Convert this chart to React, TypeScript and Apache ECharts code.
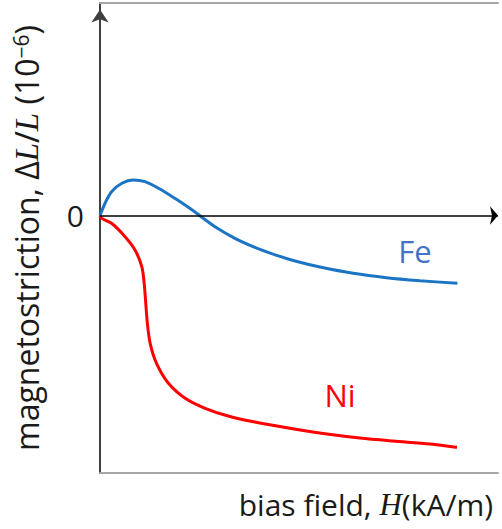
import { useEffect, useRef } from "react";
import * as echarts from "echarts";

// Fe curve: bias field H (arbitrary units) vs magnetostriction (arbitrary units)
const feH = [0, 0.13, 0.29, 0.55, 0.84, 1.13, 1.47, 1.88, 2.22, 2.51, 2.89, 3.39, 3.89, 4.4, 4.9, 5.53, 6.36, 7.2, 8.04, 8.98];
const feStrain = [0, 1.25, 2.38, 3.22, 3.55, 3.38, 2.72, 1.72, 0.82, -0.02, -1.12, -2.28, -3.18, -3.93, -4.55, -5.15, -5.78, -6.22, -6.52, -6.78];
// Ni curve
const niH = [0, 0.04, 0.29, 0.63, 0.88, 1.05, 1.11, 1.15, 1.19, 1.26, 1.42, 1.72, 2.14, 2.64, 3.22, 3.89, 5.03, 5.7, 6.53, 7.36, 8.29, 8.97];
const niStrain = [0, -0.28, -0.78, -2.12, -3.45, -5.12, -6.78, -8.78, -10.78, -12.78, -14.78, -16.78, -18.28, -19.28, -20.05, -20.65, -21.45, -21.85, -22.25, -22.55, -22.85, -23.18];

const xRange = [0, 10];
const yRange = [-25.75, 21.25];
const seriesNames = ["Fe", "Ni"];
const yTitle = "magnetostriction, Δ{i|L}/{i|L} (10{sup|−6})";
const xTitle = "bias field, {i|H}(kA/m)";

const zip = (a: number[], b: number[]) => a.map((v, i) => [v, b[i]]);

export default function App() {
  const ref = useRef<HTMLDivElement>(null);
  useEffect(() => {
    if (!ref.current) return;
    const chart = echarts.init(ref.current, null, { renderer: "svg" });
    const font = "Open Sans";
    const textColor = "#1a1a1a";
    const hiddenAxisBits = {
      axisTick: { show: false },
      axisLabel: { show: false },
      splitLine: { show: false },
    };
    chart.setOption({
      animation: false,
      backgroundColor: "#ffffff",
      textStyle: { fontFamily: font },
      grid: { left: 100, right: 4, top: 3, bottom: 56 },
      xAxis: [
        {
          type: "value",
          min: xRange[0],
          max: xRange[1],
          position: "bottom",
          axisLine: { onZero: false, lineStyle: { color: "#a6a6a6", width: 2 } },
          ...hiddenAxisBits,
          name: xTitle,
          nameLocation: "end",
          nameGap: -5,
          nameTextStyle: {
            fontFamily: font,
            fontSize: 30,
            color: textColor,
            align: "right",
            verticalAlign: "top",
            padding: [16, 0, 0, 0],
            rich: {
              i: { fontFamily: "Liberation Serif", fontStyle: "italic", fontSize: 31, color: textColor },
            },
          },
        },
        {
          type: "value",
          min: xRange[0],
          max: xRange[1],
          position: "top",
          axisLine: { onZero: false, lineStyle: { color: "#a6a6a6", width: 2 } },
          ...hiddenAxisBits,
        },
      ],
      yAxis: {
        type: "value",
        min: yRange[0],
        max: yRange[1],
        axisLine: {
          onZero: false,
          lineStyle: { color: "#404040", width: 2 },
          symbol: ["none", "arrow"],
          symbolSize: [13, 13],
          symbolOffset: [0, -6.5],
        },
        axisTick: { show: false },
        splitLine: { show: false },
        axisLabel: {
          formatter: (v: number) => (v === 0 ? "0" : ""),
          fontSize: 30,
          color: textColor,
          margin: 16,
          fontFamily: font,
        },
        name: yTitle,
        nameLocation: "middle",
        nameRotate: 90,
        nameGap: 57,
        nameTextStyle: {
          fontFamily: font,
          fontSize: 32,
          color: textColor,
          rich: {
            i: { fontFamily: "Liberation Serif", fontStyle: "italic", fontSize: 33, color: textColor },
            sup: { fontSize: 21, verticalAlign: "top", color: textColor },
          },
        },
      },
      series: [
        {
          name: seriesNames[0],
          type: "line",
          data: zip(feH, feStrain),
          smooth: 0.3,
          showSymbol: false,
          lineStyle: { color: "#1b75c4", width: 3 },
          markLine: {
            silent: true,
            symbol: ["none", "arrow"],
            symbolSize: [14, 8],
            label: { show: false },
            lineStyle: { color: "#000000", width: 1.5, type: "solid" },
            data: [{ yAxis: 0 }],
          },
          z: 3,
        },
        {
          name: seriesNames[1],
          type: "line",
          data: zip(niH, niStrain),
          smooth: 0.3,
          showSymbol: false,
          lineStyle: { color: "#ff0000", width: 3 },
          z: 3,
        },
      ],
      graphic: [
        {
          type: "text",
          x: 415,
          y: 251,
          style: {
            text: seriesNames[0],
            fill: "#4472c4",
            font: `31px "${font}"`,
            align: "center",
            verticalAlign: "middle",
          },
        },
        {
          type: "text",
          x: 340,
          y: 395,
          style: {
            text: seriesNames[1],
            fill: "#ff0000",
            font: `31px "${font}"`,
            align: "center",
            verticalAlign: "middle",
          },
        },
      ],
    });
    return () => chart.dispose();
  }, []);
  return (
    <div
      ref={ref}
      style={{ position: "absolute", left: 0, top: 0, width: 502, height: 529 }}
    />
  );
}
